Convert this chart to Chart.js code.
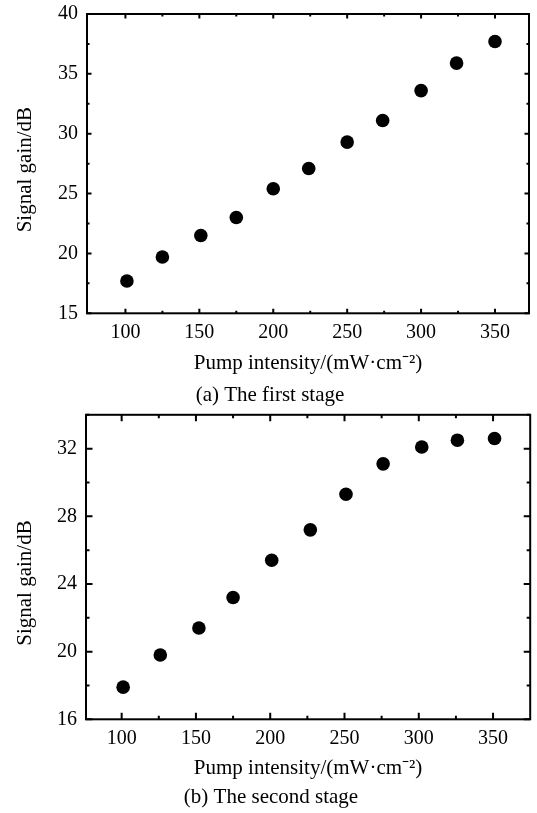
<!DOCTYPE html>
<html><head><meta charset="utf-8">
<script src="https://cdn.jsdelivr.net/npm/chart.js@4.4.1/dist/chart.umd.min.js"></script>
<style>
html,body{margin:0;padding:0;background:#fff;}
canvas{display:block;}
</style></head>
<body>
<canvas id="ca" width="537" height="408"></canvas>
<canvas id="cb" width="537" height="405"></canvas>
<script>
// ---- data ----
const pumpA = [101, 125, 151, 175, 200, 224, 250, 274, 300, 324, 350];
const gainA = [17.7, 19.7, 21.5, 23.0, 25.4, 27.1, 29.3, 31.1, 33.6, 35.9, 37.7];
const pumpB = [101, 126, 152, 175, 201, 227, 251, 276, 302, 326, 351];
const gainB = [17.9, 19.8, 21.4, 23.2, 25.4, 27.2, 29.3, 31.1, 32.1, 32.5, 32.6];

const xMajorTicks = [100, 150, 200, 250, 300, 350];
const xMinorTicks = [125, 175, 225, 275, 325];
const yMajorA = [15, 20, 25, 30, 35, 40];
const yMinorA = [17.5, 22.5, 27.5, 32.5, 37.5];
const yMajorB = [16, 20, 24, 28, 32];
const yMinorB = [18, 22, 26, 30, 34];

const xTitle = 'Pump intensity/(mW·cm⁻²)';
const yTitle = 'Signal gain/dB';
const captionA = '(a) The first stage';
const captionB = '(b) The second stage';

// ---- styling ----
const FAMILY = '"Liberation Serif", "Times New Roman", serif';
Chart.defaults.font.family = FAMILY;
Chart.defaults.color = '#000';

const frameTicks = {
  id: 'frameTicks',
  afterLayout(chart, args, o) {
    const y = chart.scales.y;
    y.top += o.titleShift; y.bottom += o.titleShift;
  },
  afterDatasetsDraw(chart, args, o) {
    const {ctx, chartArea: a, scales: {x, y}} = chart;
    ctx.save();
    ctx.strokeStyle = '#000';
    ctx.lineWidth = 2;
    ctx.lineCap = 'butt';
    ctx.strokeRect(a.left, a.top, a.right - a.left, a.bottom - a.top);
    const hx = (vals, len) => vals.forEach(v => {
      const p = x.getPixelForValue(v);
      ctx.beginPath();
      ctx.moveTo(p, a.bottom); ctx.lineTo(p, a.bottom - len);
      ctx.moveTo(p, a.top); ctx.lineTo(p, a.top + len);
      ctx.stroke();
    });
    const vy = (vals, len) => vals.forEach(v => {
      const p = y.getPixelForValue(v);
      ctx.beginPath();
      ctx.moveTo(a.left, p); ctx.lineTo(a.left + len, p);
      ctx.moveTo(a.right, p); ctx.lineTo(a.right - len, p);
      ctx.stroke();
    });
    hx(o.xMajor, o.major); hx(o.xMinor, o.minor);
    vy(o.yMajor, o.major); vy(o.yMinor, o.minor);
    ctx.restore();
  }
};

function build(id, px, py, cfg) {
  return new Chart(document.getElementById(id), {
    type: 'scatter',
    data: { datasets: [{
      data: px.map((v, i) => ({x: v, y: py[i]})),
      pointRadius: 6.8,
      pointBackgroundColor: '#000',
      pointBorderWidth: 0,
      pointHoverRadius: 6.8
    }]},
    options: {
      responsive: false,
      animation: false,
      devicePixelRatio: 1,
      layout: { padding: cfg.pad },
      plugins: {
        legend: { display: false },
        tooltip: { enabled: false },
        title: {
          display: true, text: cfg.caption, position: 'bottom', color: '#000',
          font: { family: FAMILY, size: 21, weight: 'normal', lineHeight: 1.2 },
          padding: { top: 0, bottom: 0 }
        },
        frameTicks: { xMajor: xMajorTicks, xMinor: xMinorTicks, yMajor: cfg.yMajor, yMinor: cfg.yMinor,
                      major: cfg.major, minor: cfg.minor, titleShift: cfg.shift }
      },
      scales: {
        x: {
          type: 'linear', min: cfg.xmin, max: cfg.xmax,
          afterBuildTicks: s => { s.ticks = xMajorTicks.map(v => ({value: v})); },
          afterFit: s => { s.height = cfg.xh; s.paddingLeft = 0; s.paddingRight = 0; },
          grid: { display: false, drawTicks: false },
          border: { display: false },
          ticks: { font: { size: 20 }, padding: cfg.xtp, color: '#000', maxRotation: 0 },
          title: { display: true, text: xTitle, font: { size: 21 }, color: '#000', padding: { top: 0, bottom: cfg.xtb } }
        },
        y: {
          type: 'linear', min: cfg.ymin, max: cfg.ymax,
          afterBuildTicks: s => { s.ticks = cfg.yMajor.map(v => ({value: v})); },
          afterFit: s => { s.width = cfg.yw; s.paddingTop = 0; s.paddingBottom = 0; },
          grid: { display: false, drawTicks: false },
          border: { display: false },
          ticks: { font: { size: 20 }, padding: 9, color: '#000' },
          title: { display: true, text: yTitle, font: { size: 21 }, color: '#000', padding: { top: 1.5, bottom: 0 } }
        }
      }
    },
    plugins: [frameTicks]
  });
}

build('ca', pumpA, gainA, {
  pad: { left: 11, right: 8, top: 14, bottom: 0 },
  caption: captionA, xmin: 74, xmax: 373, ymin: 15, ymax: 40,
  yMajor: yMajorA, yMinor: yMinorA, major: 4.5, minor: 2.5,
  xh: 69.5, xtp: 7, xtb: 7, yw: 76, shift: 6
});
build('cb', pumpB, gainB, {
  pad: { left: 11, right: 6, top: 5, bottom: 2.5 },
  caption: captionB, xmin: 76, xmax: 375, ymin: 16, ymax: 34,
  yMajor: yMajorB, yMinor: yMinorB, major: 6.5, minor: 3.5,
  xh: 66, xtp: 7.5, xtb: 4.7, yw: 75, shift: 16
});
</script>
</body></html>
